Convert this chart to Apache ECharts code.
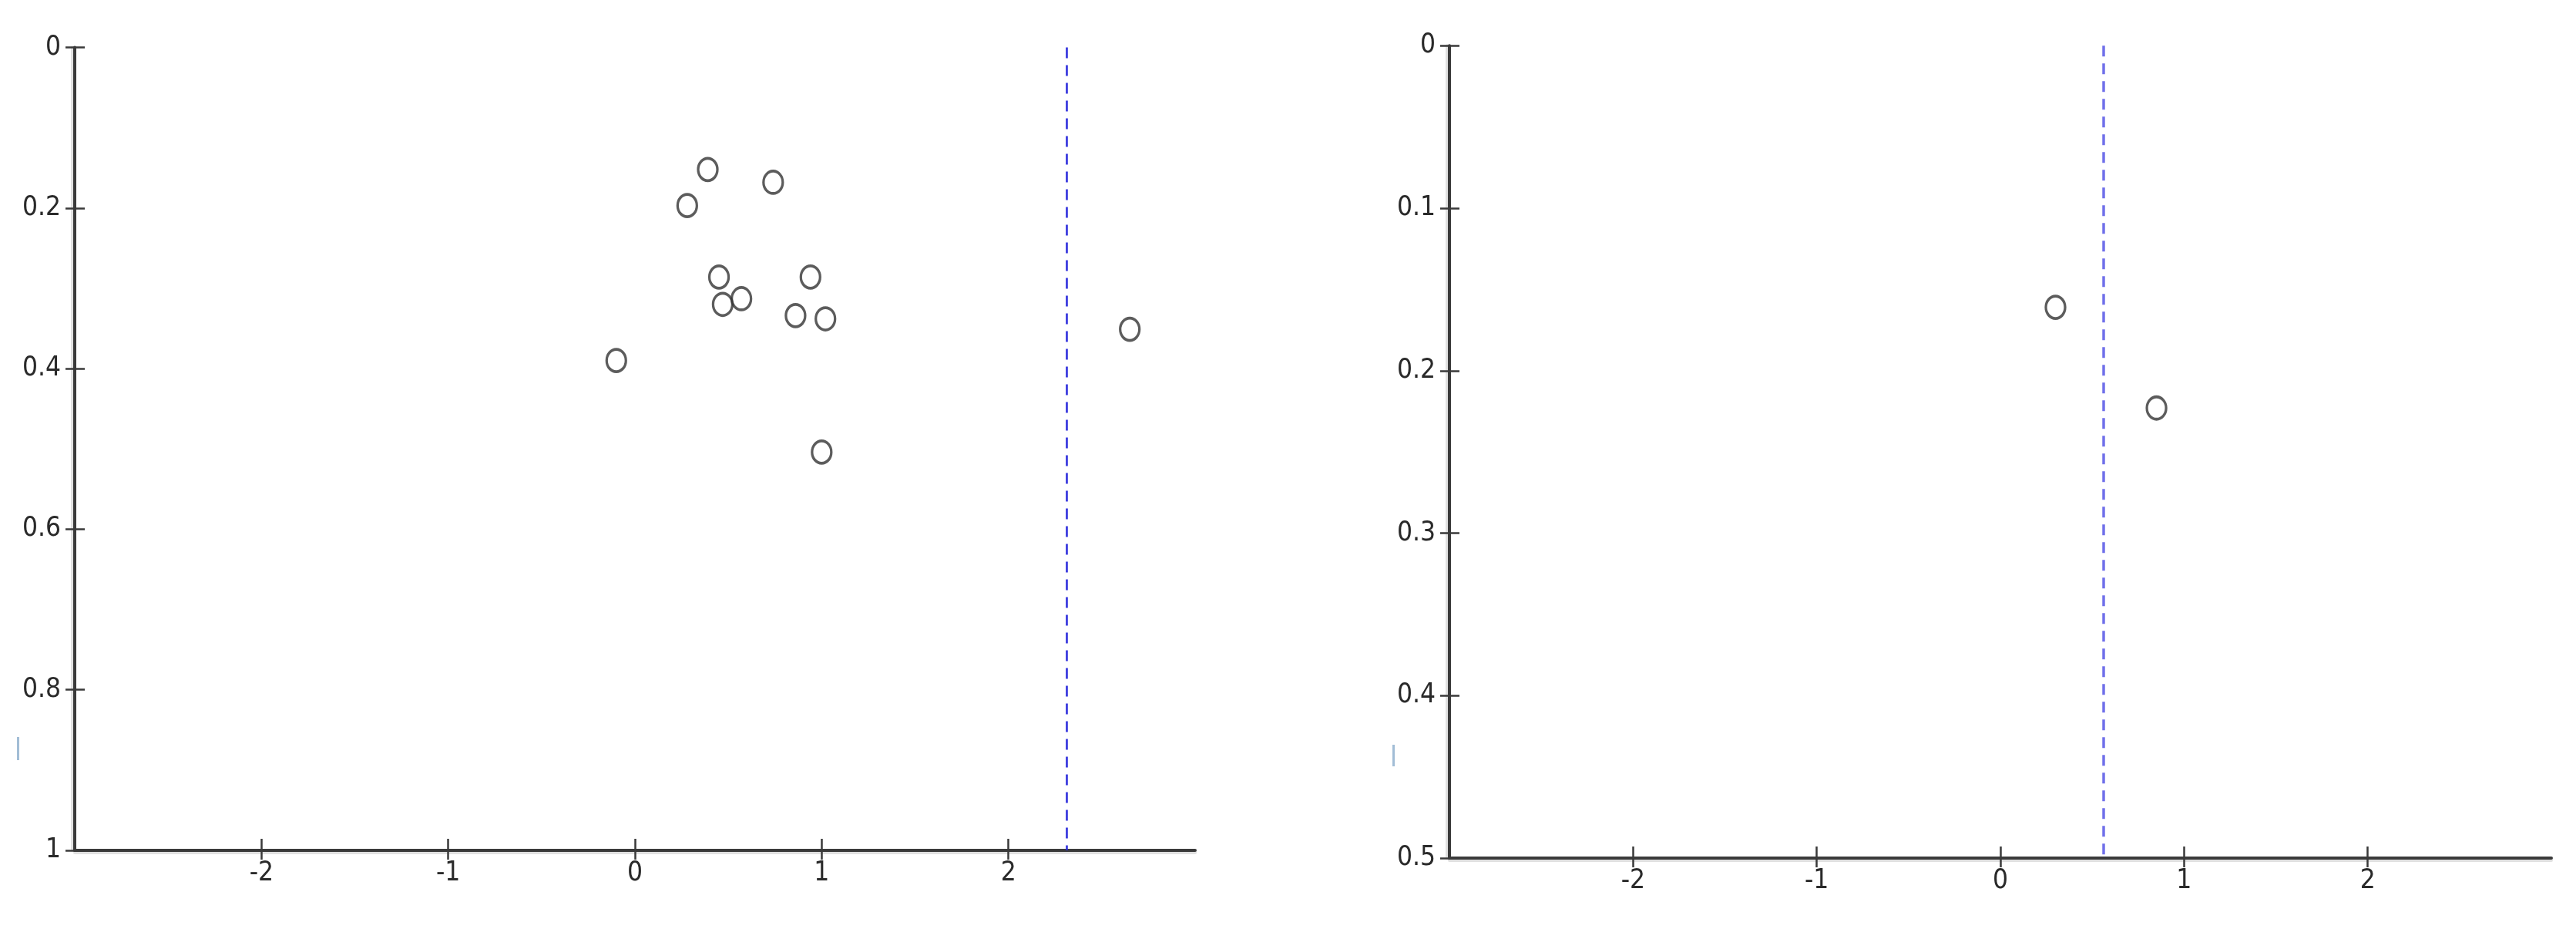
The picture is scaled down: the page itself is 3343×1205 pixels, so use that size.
<!DOCTYPE html>
<html>
<head>
<meta charset="utf-8">
<script src="https://cdn.jsdelivr.net/npm/echarts@6/dist/echarts.min.js"></script>
<style>
  html, body { margin: 0; padding: 0; background: #fff; }
  #chart { width: 3343px; height: 1205px; }
</style>
</head>
<body>
<div id="chart"></div>
<script>
// left panel
const leftX = [0.39, 0.74, 0.28, 0.45, 0.94, 0.57, 0.47, 0.86, 1.02, -0.10, 2.65, 1.00]
const leftY = [0.152, 0.168, 0.197, 0.286, 0.286, 0.313, 0.320, 0.334, 0.338, 0.390, 0.351, 0.504]
const leftRef = 2.31
const leftYTicks = [0, 1, 0.2]   // min, max, step

// right panel
const rightX = [0.30, 0.85]
const rightY = [0.161, 0.223]
const rightRef = 0.563
const rightYTicks = [0, 0.5, 0.1]

const xTicks = [-2, -1, 0, 1, 2]
const xRange = [-3, 3]

const axisColor = '#3a3a3a'
const labelFont = {
    color: '#2a2a2a',
    fontSize: 35,
    fontFamily: '"Liberation Sans Narrow", "DejaVu Sans Condensed", "Arial Narrow", sans-serif'
}

const chart = echarts.init(document.getElementById('chart'))

const grids = [
    { left: 97, top: 61.5, width: 1454, height: 1041.5 },
    { left: 1881, top: 59.3, width: 1430, height: 1053.7 }
]

const makeX = (gridIndex) => ([
    {
        type: 'value', gridIndex, position: 'bottom',
        min: xRange[0], max: xRange[1], interval: 1,
        axisLine: { onZero: false, lineStyle: { color: axisColor, width: 4, shadowColor: 'rgba(0,0,0,0.12)', shadowOffsetY: 3 } },
        axisTick: { show: true, length: 12, customValues: xTicks, lineStyle: { color: axisColor, width: 2.5 } },
        axisLabel: { ...labelFont, margin: 12, customValues: xTicks },
        splitLine: { show: false }
    },
    {
        type: 'value', gridIndex, position: 'bottom',
        min: xRange[0], max: xRange[1], interval: 1,
        axisLine: { show: false, onZero: false },
        axisTick: { show: true, inside: true, length: 15, customValues: xTicks, lineStyle: { color: axisColor, width: 2.5 } },
        axisLabel: { show: false },
        splitLine: { show: false }
    }
])

const makeY = (gridIndex, t) => ([
    {
        type: 'value', gridIndex, position: 'left', inverse: true,
        min: t[0], max: t[1], interval: t[2],
        axisLine: { onZero: false, lineStyle: { color: axisColor, width: 4, shadowColor: 'rgba(0,0,0,0.12)', shadowOffsetX: -3 } },
        axisTick: { show: true, length: 12, lineStyle: { color: axisColor, width: 2.5 } },
        axisLabel: { ...labelFont, margin: 18 },
        splitLine: { show: false }
    },
    {
        type: 'value', gridIndex, position: 'left', inverse: true,
        min: t[0], max: t[1], interval: t[2],
        axisLine: { show: false, onZero: false },
        axisTick: { show: true, inside: true, length: 13, lineStyle: { color: axisColor, width: 2.5 } },
        axisLabel: { show: false },
        splitLine: { show: false }
    }
])

const makeSeries = (xs, ys, ref, idx, refColor, refWidth) => ({
    type: 'scatter',
    xAxisIndex: idx * 2,
    yAxisIndex: idx * 2,
    data: xs.map((x, i) => [x, ys[i]]),
    symbol: 'circle',
    symbolSize: [25, 29],
    itemStyle: { color: 'rgba(255,255,255,0)', borderColor: '#333', borderWidth: 3.5 },
    markLine: {
        silent: true,
        symbol: 'none',
        label: { show: false },
        lineStyle: { color: refColor, width: refWidth, type: [14, 9] },
        data: [{ xAxis: ref }]
    }
})

const option = {
    animation: false,
    backgroundColor: '#fff',
    grid: grids,
    xAxis: [...makeX(0), ...makeX(1)],
    yAxis: [...makeY(0, leftYTicks), ...makeY(1, rightYTicks)],
    series: [
        makeSeries(leftX, leftY, leftRef, 0, '#2828dc', 2.5),
        makeSeries(rightX, rightY, rightRef, 1, '#7070ea', 3.5)
    ],
    graphic: [
        { type: 'rect', shape: { x: 22, y: 956, width: 3, height: 30 }, style: { fill: '#a2bdd6' } },
        { type: 'rect', shape: { x: 1807, y: 966, width: 3, height: 28 }, style: { fill: '#a2bdd6' } }
    ]
}

chart.setOption(option)
</script>
</body>
</html>
